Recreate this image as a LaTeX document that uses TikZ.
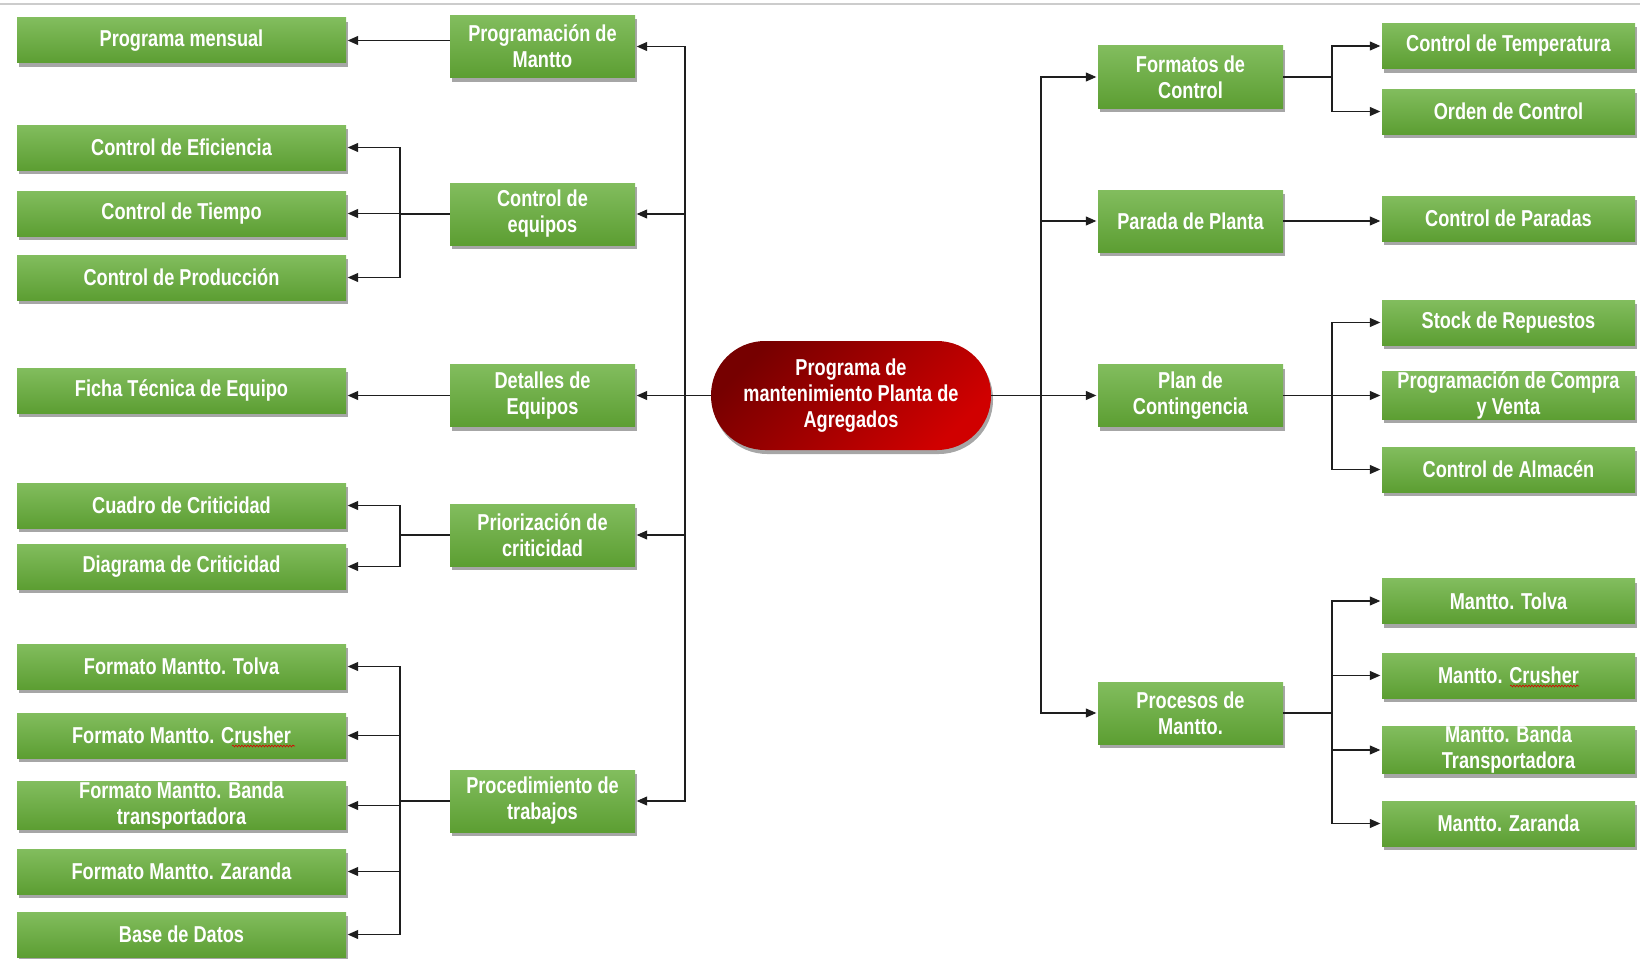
\documentclass[tikz,border=0pt]{standalone}
\usepackage{fontspec}
\newfontfamily\boxfont{Liberation Sans}[FakeStretch=0.79]
\usetikzlibrary{arrows.meta,shadows,decorations.pathmorphing}

\definecolor{gtop}{RGB}{130,189,94}
\definecolor{gbot}{RGB}{92,158,50}
\definecolor{rdark}{RGB}{118,0,0}
\definecolor{rlight}{RGB}{208,0,0}
\definecolor{linkcol}{RGB}{30,30,30}

\tikzset{
  box/.style={draw=none, top color=gtop, bottom color=gbot, text=white,
    font=\boxfont\bfseries\fontsize{23}{26}\selectfont, align=center, inner sep=0pt,
    drop shadow={shadow xshift=2pt, shadow yshift=-4pt, opacity=0.35, fill=black}},
  leafL/.style={box, minimum width=329pt, minimum height=45pt},
  mid/.style={box, minimum width=185pt, minimum height=62pt},
  leafR/.style={box, minimum width=253pt, minimum height=45pt},
  hub/.style={draw=none, rounded corners=54pt, minimum width=280pt, minimum height=109pt,
    top color=rdark, bottom color=rlight, shading angle=45, text=white,
    font=\boxfont\bfseries\fontsize{23}{26}\selectfont, align=center, inner sep=0pt,
    drop shadow={shadow xshift=2pt, shadow yshift=-4pt, opacity=0.35, fill=black}},
  arr/.style={-{Triangle[length=10.5pt,width=9pt]}, line width=1.1pt, draw=linkcol,
    shorten >=1.5pt},
  spell/.style={draw=red!85!black, line width=0.6pt, decorate,
    decoration={snake, amplitude=0.9pt, segment length=3pt}},
}

\begin{document}
\begin{tikzpicture}[x=1pt,y=-1pt]
\useasboundingbox (0,0) rectangle (1640,958);

% thin rule along the top edge
\draw[gray!40, line width=1.5pt] (0,4) -- (1640,4);

% centre
\node[hub] (hub) at (851,395.5) {Programa de\\mantenimiento Planta de\\Agregados};

% left branches
\node[mid] (prog) at (542.5,46.5) {Programación de\\Mantto};
\node[mid] (ceq)  at (542.5,214)  {Control de\\equipos};
\node[mid] (det)  at (542.5,395.5) {Detalles de\\Equipos};
\node[mid] (prio) at (542.5,535)  {Priorización de\\criticidad};
\node[mid] (proc) at (542.5,801)  {Procedimiento de\\trabajos};

\node[leafL] (pm)     at (181.5,40.5)  {Programa mensual};
\node[leafL] (eff)    at (181.5,147.5) {Control de Eficiencia};
\node[leafL] (tie)    at (181.5,213.5) {Control de Tiempo};
\node[leafL] (prod)   at (181.5,277.5) {Control de Producción};
\node[leafL] (ficha)  at (181.5,390.5) {Ficha Técnica de Equipo};
\node[leafL] (cuadro) at (181.5,505.5) {Cuadro de Criticidad};
\node[leafL] (diag)   at (181.5,566.5) {Diagrama de Criticidad};
\node[leafL] (ftol)   at (181.5,666.5) {Formato Mantto. Tolva};
\node[leafL] (fcru)   at (181.5,735.5) {Formato Mantto. Crusher};
\node[leafL] (fban)   at (181.5,805.5) {Formato Mantto. Banda\\transportadora};
\node[leafL] (fzar)   at (181.5,871.5) {Formato Mantto. Zaranda};
\node[leafL] (bdd)    at (181.5,934.5) {Base de Datos};

% right branches
\node[mid] (fc)    at (1190.5,77)    {Formatos de\\Control};
\node[mid] (par)   at (1190.5,221)   {Parada de Planta};
\node[mid] (plan)  at (1190.5,395.5) {Plan de\\Contingencia};
\node[mid] (procm) at (1190.5,713)   {Procesos de\\Mantto.};

\node[leafR] (temp)   at (1508.5,46)    {Control de Temperatura};
\node[leafR] (orden)  at (1508.5,111.5) {Orden de Control};
\node[leafR] (cpar)   at (1508.5,218.5) {Control de Paradas};
\node[leafR] (stock)  at (1508.5,322.5) {Stock de Repuestos};
\node[leafR] (compra) at (1508.5,395.5) {Programación de Compra\\y Venta};
\node[leafR] (alm)    at (1508.5,469.5) {Control de Almacén};
\node[leafR] (mtol)   at (1508.5,601)   {Mantto. Tolva};
\node[leafR] (mcru)   at (1508.5,675.5) {Mantto. Crusher};
\node[leafR] (mban)   at (1508.5,750)   {Mantto. Banda\\Transportadora};
\node[leafR] (mzar)   at (1508.5,823.5) {Mantto. Zaranda};

% bus lines
\coordinate (tl) at (685,0);
\coordinate (bl) at (400,0);
\coordinate (tr) at (1041,0);
\coordinate (br) at (1332,0);

% centre to second level
\foreach \m in {prog,ceq,det,prio,proc}
  \draw[arr] (hub.west) -- (tl |- hub.west) |- (\m.east);
\foreach \m in {fc,par,plan,procm}
  \draw[arr] (hub.east) -- (tr |- hub.east) |- (\m.west);

% left leaves
\draw[arr] (prog.west |- pm) -- (pm.east);
\foreach \l in {eff,tie,prod}
  \draw[arr] (ceq.west) -- (bl |- ceq.west) |- (\l.east);
\draw[arr] (det.west) -- (det.west -| ficha.east);
\foreach \l in {cuadro,diag}
  \draw[arr] (prio.west) -- (bl |- prio.west) |- (\l.east);
\foreach \l in {ftol,fcru,fban,fzar,bdd}
  \draw[arr] (proc.west) -- (bl |- proc.west) |- (\l.east);

% right leaves
\foreach \r in {temp,orden}
  \draw[arr] (fc.east) -- (br |- fc.east) |- (\r.west);
\draw[arr] (par.east) -- (par.east -| cpar.west);
\foreach \r in {stock,compra,alm}
  \draw[arr] (plan.east) -- (br |- plan.east) |- (\r.west);
\foreach \r in {mtol,mcru,mban,mzar}
  \draw[arr] (procm.east) -- (br |- procm.east) |- (\r.west);

% spell-check underlines
\draw[spell] (232,746) -- (295,746);
\draw[spell] (1510,686) -- (1579,686);
\end{tikzpicture}
\end{document}
